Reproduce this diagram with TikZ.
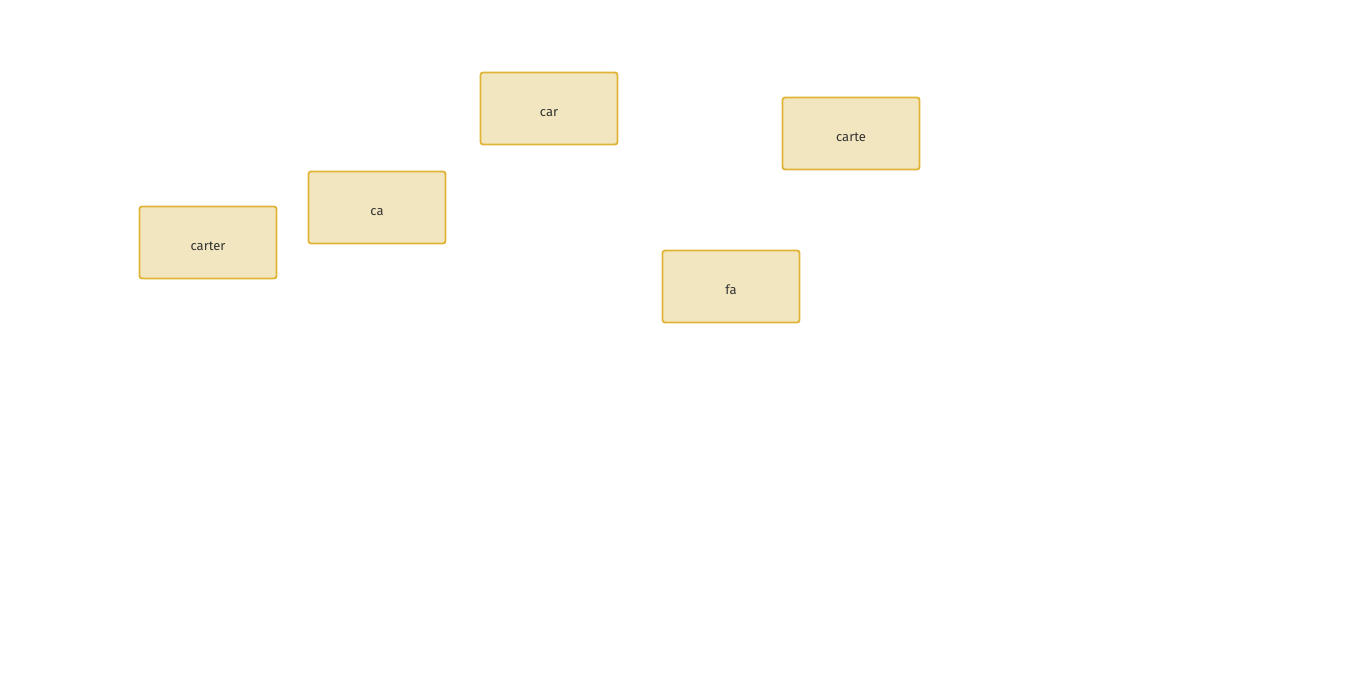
\documentclass[tikz,border=0pt]{standalone}
\usepackage{fontspec}
\setmainfont{Fira Sans}
\definecolor{boxfill}{HTML}{F2E6C0}
\definecolor{boxline}{HTML}{E0B535}
\definecolor{txt}{HTML}{333333}
\begin{document}
\begin{tikzpicture}[x=1pt,y=-1pt,
  wordbox/.style={draw=boxline,fill=boxfill,line width=1.8pt,rounded corners=2.5pt,
    minimum width=137pt,minimum height=72pt,inner sep=0pt,
    font=\fontsize{13pt}{15pt}\selectfont,text=txt}]
\useasboundingbox (0,0) rectangle (1359,700);
% baseline sits 8pt below the box centre
\newcommand{\lowered}[1]{\raisebox{-8pt}[0pt][0pt]{#1}}
\node[wordbox] (car)    at (549,108.5) {\lowered{car}};
\node[wordbox] (carte)  at (851,133.5) {\lowered{carte}};
\node[wordbox] (ca)     at (377,207.5) {\lowered{ca}};
\node[wordbox] (carter) at (208,242.5) {\lowered{carter}};
\node[wordbox] (fa)     at (731,286.5) {\lowered{fa}};
\end{tikzpicture}
\end{document}
